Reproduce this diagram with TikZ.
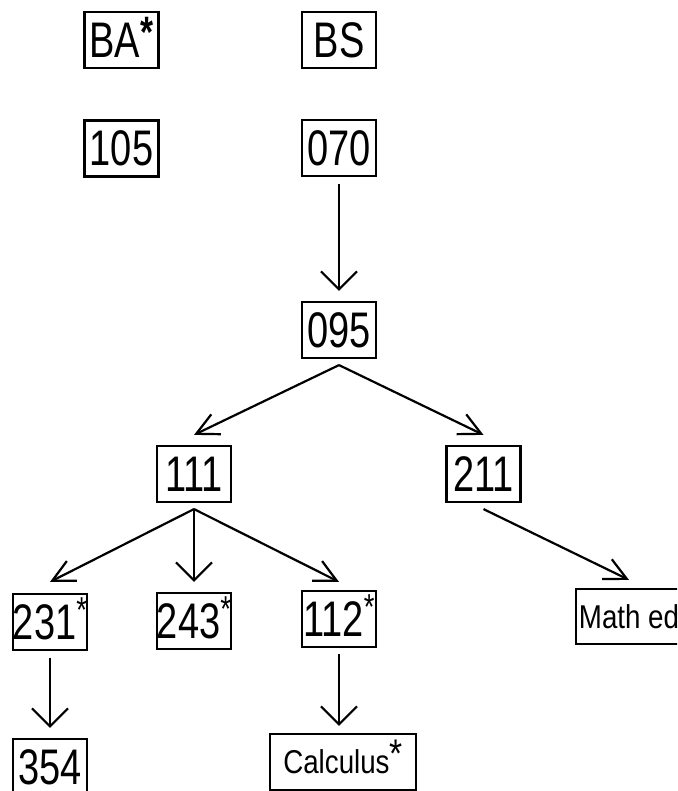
\documentclass[tikz,border=0pt]{standalone}
\usepackage{fontspec}
\setmainfont{Liberation Sans}[FakeStretch=0.76]
\newfontfamily\smallfont{Liberation Sans}[FakeStretch=0.84]
\usetikzlibrary{arrows.meta}
\newcommand\myast{\smash{\raisebox{17pt}{\fontsize{36}{36}\selectfont *}}}
\newcommand\myastb{\smash{\raisebox{10pt}{\fontsize{44}{44}\selectfont\bfseries *}}}
\newcommand\myastc{\smash{\raisebox{6pt}{\fontsize{40}{40}\selectfont *}}}
\begin{document}
\begin{tikzpicture}[x=1pt,y=1pt,
  box/.style={draw, line width=2.2pt, minimum width=74pt, minimum height=56pt, inner sep=0pt,
    font=\fontsize{50}{50}\selectfont},
  sbox/.style={draw, line width=2.2pt, minimum height=56pt, inner sep=0pt,
    font=\smallfont\fontsize{33}{33}\selectfont},
  varr/.style={line width=2.2pt, -{Straight Barb[length=18pt,width=36pt,line width=2.2pt]}},
  darr/.style={line width=2.2pt, -{Straight Barb[length=22pt,width=22pt,line width=2.2pt]}}]
\useasboundingbox (0,0) rectangle (677,791);
\clip (0,0) rectangle (677,791);
\node[box] (ba) at (121.5,751) {BA\myastb};
\node[box] (bs) at (339,751) {BS};
\node[box] (n105) at (121.5,642.5) {105};
\node[box] (n070) at (339,643) {070};
\node[box] (n095) at (339,461) {095};
\node[box] (n111) at (194,317) {111};
\node[box] (n211) at (483.5,317) {211};
\node[box] (n231) at (50,169) {231\myast};
\node[box] (n243) at (194,170) {243\myast};
\node[box] (n112) at (339,172) {112\myast};
\node[sbox, minimum width=106pt, minimum height=55pt] (math) at (629,174.5) {Math ed};
\node[box] (n354) at (50,24) {354};
\node[sbox, minimum width=146pt] (calc) at (343,29) {Calculus\myastc};
\draw[varr] ([yshift=-7pt]n070.south) -- ([yshift=10pt]n095.north);
\draw[darr] ([yshift=-6pt]n095.south) -- ([yshift=10pt]n111.north);
\draw[darr] ([yshift=-6pt]n095.south) -- ([yshift=10pt]n211.north);
\draw[darr] ([yshift=-6pt]n111.south) -- ([yshift=11pt]n231.north);
\draw[varr] ([yshift=-6pt]n111.south) -- ([yshift=10pt]n243.north);
\draw[darr] ([yshift=-6pt]n111.south) -- ([yshift=8pt]n112.north);
\draw[darr] ([yshift=-6pt]n211.south) -- ([yshift=8pt]math.north);
\draw[varr] ([yshift=-7pt]n231.south) -- ([yshift=10pt]n354.north);
\draw[varr] ([yshift=-6pt]n112.south) -- ([yshift=7pt]n112.south |- calc.north);
\end{tikzpicture}
\end{document}
